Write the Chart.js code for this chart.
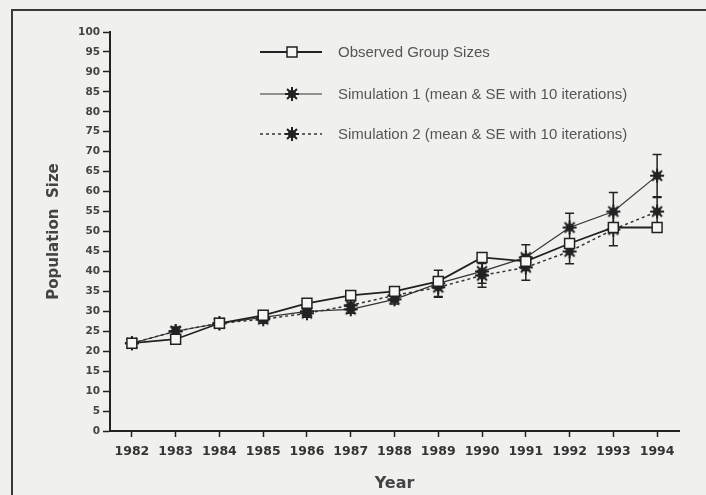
<!DOCTYPE html>
<html>
<head>
<meta charset="utf-8">
<script src="https://cdn.jsdelivr.net/npm/chart.js@4/dist/chart.umd.min.js"></script>
<style>
  html, body { margin: 0; padding: 0; background: #f0f0ee; }
  #wrap { position: relative; width: 706px; height: 495px; }
</style>
</head>
<body>
<div id="wrap"><canvas id="c"></canvas></div>
<script>
// Years on the x axis
const years = ['1982','1983','1984','1985','1986','1987','1988','1989','1990','1991','1992','1993','1994'];

// Observed group sizes
const observed = [22, 23, 27, 29, 32, 34, 35, 37.5, 43.5, 42.5, 47, 51, 51];

// Simulation 1: mean and standard error over 10 iterations
const sim1Mean = [22, 25, 27, 28.5, 30, 30.5, 33, 37, 40, 43.5, 51, 55, 64];
const sim1SE   = [0.5, 1, 0.8, 1, 1, 1, 1.2, 3.3, 3, 3.2, 3.6, 4.8, 5.3];

// Simulation 2: mean and standard error over 10 iterations
const sim2Mean = [22, 25, 27, 28, 29.5, 31.5, 34, 36, 39, 41, 45, 50.5, 55];
const sim2SE   = [0.5, 1, 0.8, 1, 1, 1.2, 1.5, 2.5, 3, 3.2, 3.1, 4.1, 3.5];

// Y axis tick values
const yTicks = [0,5,10,15,20,25,30,35,40,45,50,55,60,65,70,75,80,85,90,95,100];

const INK = '#222';

// Asterisk marker with a dark centre
function makeStar() {
  const s = 18, c = document.createElement('canvas');
  c.width = s; c.height = s;
  const g = c.getContext('2d');
  const m = s / 2, r = 7;
  g.strokeStyle = INK; g.lineWidth = 2; g.lineCap = 'butt';
  g.beginPath();
  for (let k = 0; k < 4; k++) {
    const a = k * Math.PI / 4;
    g.moveTo(m - r * Math.cos(a), m - r * Math.sin(a));
    g.lineTo(m + r * Math.cos(a), m + r * Math.sin(a));
  }
  g.stroke();
  g.fillStyle = INK;
  g.beginPath(); g.arc(m, m, 4, 0, Math.PI * 2); g.fill();
  return c;
}
const starImg = makeStar();

// Page frame (top and left rules)
const framePlugin = {
  id: 'frame',
  beforeDraw(chart) {
    const ctx = chart.ctx;
    ctx.save();
    ctx.strokeStyle = '#3a3a3a';
    ctx.lineWidth = 2;
    ctx.beginPath();
    ctx.moveTo(12, chart.height);
    ctx.lineTo(12, 10);
    ctx.lineTo(chart.width, 10);
    ctx.stroke();
    ctx.restore();
  }
};

// Standard-error bars for the two simulations
const errorBarPlugin = {
  id: 'errorBars',
  beforeDatasetsDraw(chart) {
    const ctx = chart.ctx, xs = chart.scales.x, ys = chart.scales.y;
    const series = [[sim1Mean, sim1SE], [sim2Mean, sim2SE]];
    ctx.save();
    ctx.strokeStyle = INK;
    ctx.lineWidth = 1.5;
    series.forEach(([mean, se]) => {
      mean.forEach((v, i) => {
        const x = xs.getPixelForValue(i);
        const yHi = ys.getPixelForValue(v + se[i]);
        const yLo = ys.getPixelForValue(v - se[i]);
        ctx.beginPath();
        ctx.moveTo(x, yHi); ctx.lineTo(x, yLo);
        ctx.moveTo(x - 4.5, yHi); ctx.lineTo(x + 4.5, yHi);
        ctx.moveTo(x - 4.5, yLo); ctx.lineTo(x + 4.5, yLo);
        ctx.stroke();
      });
    });
    ctx.restore();
  }
};

// Legend drawn inside the plot area
const legendPlugin = {
  id: 'innerLegend',
  afterDraw(chart) {
    const ctx = chart.ctx;
    const rows = [52, 94, 134];
    ctx.save();
    chart.data.datasets.forEach((ds, i) => {
      const y = rows[i];
      ctx.strokeStyle = ds.borderColor;
      ctx.lineWidth = ds.borderWidth;
      ctx.setLineDash(ds.borderDash || []);
      ctx.beginPath();
      ctx.moveTo(260, y); ctx.lineTo(322, y);
      ctx.stroke();
      ctx.setLineDash([]);
      if (ds.pointStyle === 'rect') {
        ctx.fillStyle = ds.pointBackgroundColor;
        ctx.fillRect(287, y - 5, 10, 10);
        ctx.lineWidth = 1.5;
        ctx.strokeRect(287, y - 5, 10, 10);
      } else {
        ctx.drawImage(ds.pointStyle, 292 - 9, y - 9);
      }
      ctx.fillStyle = '#555';
      ctx.font = '15px "Liberation Sans", Arial, sans-serif';
      ctx.textBaseline = 'middle';
      ctx.textAlign = 'left';
      ctx.fillText(ds.label, 338, y + 1);
    });
    ctx.restore();
  }
};

new Chart(document.getElementById('c'), {
  type: 'line',
  data: {
    labels: years,
    datasets: [
      {
        label: 'Observed Group Sizes',
        data: observed,
        borderColor: INK,
        borderWidth: 1.8,
        pointStyle: 'rect',
        pointRadius: 7,
        pointBorderWidth: 1.5,
        pointBackgroundColor: '#f7f7f5',
        pointBorderColor: INK,
        tension: 0
      },
      {
        label: 'Simulation 1 (mean & SE with 10 iterations)',
        data: sim1Mean,
        borderColor: '#333',
        borderWidth: 1.2,
        pointStyle: starImg,
        tension: 0
      },
      {
        label: 'Simulation 2 (mean & SE with 10 iterations)',
        data: sim2Mean,
        borderColor: '#333',
        borderWidth: 1.5,
        borderDash: [3, 3],
        pointStyle: starImg,
        tension: 0
      }
    ]
  },
  options: {
    responsive: true,
    maintainAspectRatio: false,
    animation: false,
    events: [],
    layout: { padding: { left: 0, right: 27, top: 32, bottom: 0 } },
    plugins: { legend: { display: false }, tooltip: { enabled: false } },
    scales: {
      x: {
        type: 'category',
        offset: true,
        grid: { display: true, drawOnChartArea: false, drawTicks: true, tickLength: 6, tickColor: INK, tickWidth: 1.5 },
        border: { display: true, color: INK, width: 2 },
        ticks: {
          color: '#333',
          padding: 7,
          maxRotation: 0,
          autoSkip: false,
          font: { family: '"DejaVu Sans", sans-serif', size: 12.5, weight: 'bold' }
        },
        title: {
          display: true,
          text: 'Year',
          color: '#444',
          padding: { top: 0, bottom: 1.5 },
          font: { family: '"DejaVu Sans", sans-serif', size: 16, weight: 'bold' }
        },
        afterFit(scale) { scale.height = 64; }
      },
      y: {
        min: 0,
        max: 100,
        afterBuildTicks(scale) { scale.ticks = yTicks.map(v => ({ value: v })); },
        grid: { display: true, drawOnChartArea: false, drawTicks: true, tickLength: 7, tickColor: INK, tickWidth: 1.5 },
        border: { display: true, color: INK, width: 2 },
        ticks: {
          color: '#444',
          padding: 3,
          font: { family: '"DejaVu Sans", sans-serif', size: 10.5, weight: 'bold' }
        },
        title: {
          display: true,
          text: 'Population  Size',
          color: '#444',
          padding: { top: 45, bottom: 0 },
          font: { family: '"DejaVu Sans", sans-serif', size: 15, weight: 'bold' }
        },
        afterFit(scale) { scale.width = 110; }
      }
    }
  },
  plugins: [framePlugin, errorBarPlugin, legendPlugin]
});
</script>
</body>
</html>
